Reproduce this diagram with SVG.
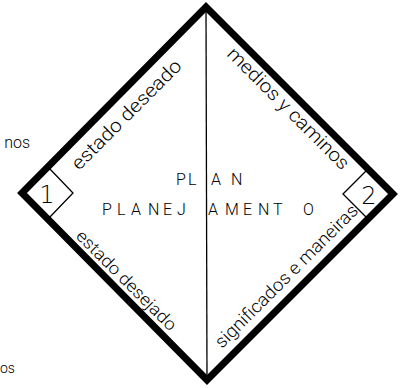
<svg xmlns="http://www.w3.org/2000/svg" width="407" height="388" viewBox="0 0 407 388">
  <style>
    .frame { fill: none; stroke: #000; stroke-width: 7; stroke-linejoin: miter; }
    .thin { fill: none; stroke: #000; stroke-width: 1.3; }
    .hand { font-family: Roboto, "Liberation Sans", sans-serif; font-weight: 300; fill: #000; }
    .caps { font-family: Roboto, "Liberation Sans", sans-serif; font-weight: 300; font-size: 16px; fill: #000; }
    .digit { font-family: "DejaVu Sans", sans-serif; font-weight: 200; font-size: 24px; fill: #000; text-anchor: middle; }
  </style>
  <rect width="407" height="388" fill="#fff"/>

  <g id="connectors">
    <line class="thin" x1="206" y1="7" x2="207" y2="380" stroke-width="1.5"/>
  </g>

  <g id="box1">
    <polygon class="thin" points="22,193 48,167 73,193 48,219"/>
    <text class="digit" x="47" y="203">1</text>
  </g>

  <g id="box2">
    <polygon class="thin" points="343,194 368,169 393,194 368,219"/>
    <text class="digit" x="369" y="204">2</text>
  </g>

  <g id="frame">
    <polygon class="frame" points="206,7 393,194 207,380 22,193"/>
  </g>

  <g id="edge-labels">
    <text class="hand" font-size="19" transform="translate(79,171) rotate(-45)" textLength="147" lengthAdjust="spacingAndGlyphs">estado deseado</text>
    <text class="hand" font-size="19" transform="translate(226,55) rotate(45)" textLength="164" lengthAdjust="spacingAndGlyphs">medios y caminos</text>
    <text class="hand" font-size="17" transform="translate(75,237) rotate(45)" textLength="134" lengthAdjust="spacingAndGlyphs">estado desejado</text>
    <text class="hand" font-size="18" transform="translate(222,349) rotate(-45)" textLength="194" lengthAdjust="spacingAndGlyphs">significados e maneiras</text>
  </g>

  <g id="center">
    <text class="caps" x="176 188 211 231" y="185">PLAN</text>
    <text class="caps" x="102 117 131 148 163 177 208 225 243 258 273 303" y="215">PLANEJAMENTO</text>
  </g>

  <g id="fragments">
    <text class="hand" font-size="16" x="30" y="148" text-anchor="end">nos</text>
    <text class="hand" font-size="14" x="0" y="373">os</text>
  </g>
</svg>
